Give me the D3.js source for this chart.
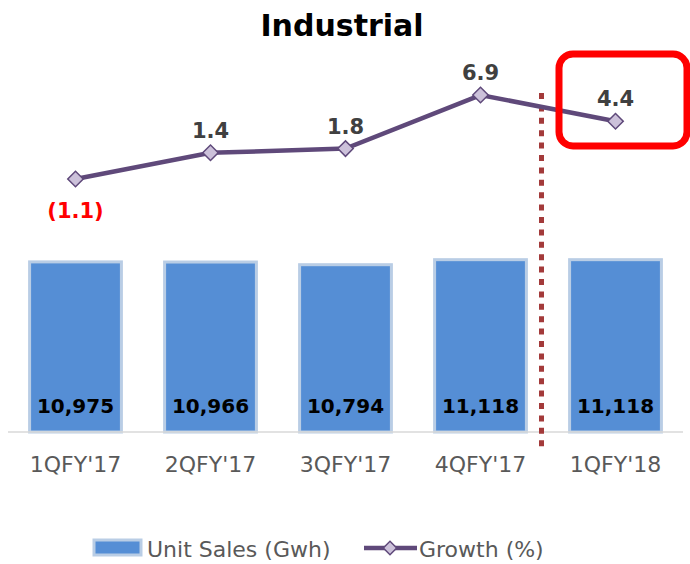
<html>
<head>
<script src="https://d3js.org/d3.v7.min.js"></script>
<style>
  body { margin: 0; background: #fff; }
  text { font-family: "DejaVu Sans", Verdana, sans-serif; }
</style>
</head>
<body>
<svg width="690" height="564"></svg>
<script>
const quarters = ["1QFY'17", "2QFY'17", "3QFY'17", "4QFY'17", "1QFY'18"];
const unitSales = [10975, 10966, 10794, 11118, 11118];
const growth = [-1.1, 1.4, 1.8, 6.9, 4.4];

const width = 690, height = 564;
const svg = d3.select("svg").attr("width", width).attr("height", height);

const x = d3.scaleBand().domain(quarters).range([8, 683]).paddingInner(0.32).paddingOuter(0.16);
const y = d3.scaleLinear().domain([0, 14000]).range([432, 215]);
const y2 = d3.scaleLinear().domain([-10, 10]).range([272.5, 62.5]);

// title
svg.append("text")
   .attr("x", 342).attr("y", 36)
   .attr("text-anchor", "middle")
   .attr("font-size", 30).attr("font-weight", "bold")
   .attr("fill", "#000")
   .text("Industrial");

// bars
svg.selectAll(".bar")
   .data(unitSales)
   .enter().append("rect")
   .attr("class", "bar")
   .attr("x", (d, i) => x(quarters[i]))
   .attr("y", d => y(d))
   .attr("width", x.bandwidth())
   .attr("height", d => y(0) - y(d))
   .attr("fill", "#558ed5")
   .attr("stroke", "#b9cde5")
   .attr("stroke-width", 3);

// axis line
svg.append("line")
   .attr("x1", 8).attr("x2", 683)
   .attr("y1", y(0)).attr("y2", y(0))
   .attr("stroke", "#d9d9d9").attr("stroke-width", 1.5);

// x labels
const xAxis = svg.append("g")
   .attr("transform", `translate(0,${y(0)})`)
   .call(d3.axisBottom(x).tickSize(0).tickPadding(24));
xAxis.select(".domain").remove();
xAxis.selectAll("text")
   .attr("font-size", 22)
   .attr("fill", "#595959")
   .style("font-family", "'DejaVu Sans', Verdana, sans-serif");

// bar labels
svg.selectAll(".barLabel")
   .data(unitSales)
   .enter().append("text")
   .attr("x", (d, i) => x(quarters[i]) + x.bandwidth() / 2)
   .attr("y", y(0) - 19)
   .attr("text-anchor", "middle")
   .attr("font-size", 20).attr("font-weight", "bold")
   .attr("fill", "#000")
   .text(d => d3.format(",")(d));

// dotted divider
svg.append("line")
   .attr("x1", 541.5).attr("x2", 541.5)
   .attr("y1", 93).attr("y2", 450)
   .attr("stroke", "#a33a3a").attr("stroke-width", 5)
   .attr("stroke-dasharray", "6 6.4");

// growth line
const cx = (d, i) => x(quarters[i]) + x.bandwidth() / 2;
svg.append("path")
   .datum(growth)
   .attr("d", d3.line().x(cx).y(d => y2(d)))
   .attr("fill", "none")
   .attr("stroke", "#5f497a")
   .attr("stroke-width", 4.5);

svg.selectAll(".marker")
   .data(growth)
   .enter().append("path")
   .attr("d", d3.symbol().type(d3.symbolSquare).size(120))
   .attr("transform", (d, i) => `translate(${cx(d, i)},${y2(d)}) rotate(45)`)
   .attr("fill", "#ccc1da")
   .attr("stroke", "#5f497a")
   .attr("stroke-width", 1.5);

svg.selectAll(".growthLabel")
   .data(growth)
   .enter().append("text")
   .attr("x", cx)
   .attr("y", d => d < 0 ? y2(d) + 39 : y2(d) - 15)
   .attr("text-anchor", "middle")
   .attr("font-size", 21).attr("font-weight", "bold")
   .attr("fill", d => d < 0 ? "#ff0000" : "#404040")
   .text(d => d < 0 ? `(${d3.format(".1f")(-d)})` : d3.format(".1f")(d));

// highlight box
svg.append("rect")
   .attr("x", 559).attr("y", 54)
   .attr("width", 128).attr("height", 92)
   .attr("rx", 14)
   .attr("fill", "none")
   .attr("stroke", "#ff0000")
   .attr("stroke-width", 7);

// legend
const lg = svg.append("g");
lg.append("rect")
   .attr("x", 94).attr("y", 540).attr("width", 47).attr("height", 15)
   .attr("fill", "#558ed5").attr("stroke", "#b9cde5").attr("stroke-width", 3);
lg.append("text")
   .attr("x", 147).attr("y", 557)
   .attr("font-size", 22).attr("fill", "#595959")
   .text("Unit Sales (Gwh)");
lg.append("line")
   .attr("x1", 364).attr("x2", 417).attr("y1", 548).attr("y2", 548)
   .attr("stroke", "#5f497a").attr("stroke-width", 4.5);
lg.append("path")
   .attr("d", d3.symbol().type(d3.symbolSquare).size(90))
   .attr("transform", "translate(390,548) rotate(45)")
   .attr("fill", "#ccc1da").attr("stroke", "#5f497a").attr("stroke-width", 1.5);
lg.append("text")
   .attr("x", 419).attr("y", 557)
   .attr("font-size", 22).attr("fill", "#595959")
   .text("Growth (%)");
</script>
</body>
</html>
